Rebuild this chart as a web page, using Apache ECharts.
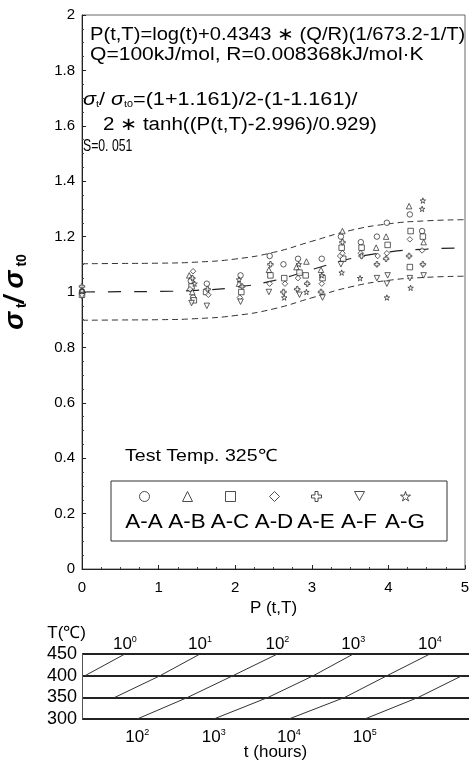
<!DOCTYPE html>
<html><head><meta charset="utf-8">
<script src="https://cdn.jsdelivr.net/npm/echarts@6/dist/echarts.min.js"></script>
<style>html,body{margin:0;padding:0;background:#fff}#c{width:469px;height:769px}</style>
</head><body><div id="c"></div>
<script>
// ---------- data ----------
const seriesNames = ['A-A','A-B','A-C','A-D','A-E','A-F','A-G'];
const dataAA = [[0,1.0],[1.42,1.04],[1.45,0.98],[1.63,1.03],[2.07,1.06],[2.45,1.13],[2.63,1.10],[2.82,1.12],[3.13,1.12],[3.38,1.20],[3.64,1.18],[3.85,1.20],[3.98,1.25],[4.28,1.28],[4.44,1.22]];
const dataAB = [[0,1.01],[1.40,1.06],[1.44,1.00],[2.05,1.03],[2.44,1.08],[2.80,1.09],[2.93,1.11],[3.12,1.08],[3.40,1.22],[3.84,1.16],[3.97,1.20],[4.27,1.31],[4.46,1.18]];
const dataAC = [[0,0.99],[1.43,1.02],[1.46,0.97],[1.62,1.00],[2.08,1.00],[2.46,1.06],[2.64,1.05],[2.84,1.07],[2.92,1.06],[3.14,1.05],[3.39,1.16],[3.41,1.12],[3.65,1.16],[3.99,1.17],[4.29,1.22],[4.28,1.09],[4.45,1.20]];
const dataAD = [[0,1.0],[1.45,1.075],[1.41,1.01],[1.65,0.99],[2.06,0.98],[2.45,1.03],[2.65,1.03],[2.82,1.05],[3.13,1.03],[3.37,1.13],[3.40,1.14],[3.64,1.14],[3.86,1.13],[3.98,1.14],[4.28,1.19],[4.44,1.15]];
const dataAE = [[0,1.02],[1.44,1.05],[1.64,1.01],[2.09,1.02],[2.46,1.10],[2.63,1.00],[2.81,1.01],[2.94,1.03],[3.12,1.00],[3.40,1.18],[3.65,1.13],[3.85,1.10],[3.97,1.12],[4.27,1.13],[4.45,1.10]];
const dataAF = [[0,0.985],[1.43,0.96],[1.63,0.95],[2.07,0.965],[2.44,1.00],[2.84,0.99],[3.14,0.98],[3.38,1.10],[3.85,1.05],[3.99,1.06],[3.98,1.03],[4.28,1.05],[4.46,1.06]];
const dataAG = [[0,1.005],[1.47,1.03],[2.05,1.045],[2.64,0.98],[2.83,1.10],[2.93,1.00],[3.13,1.06],[3.39,1.07],[3.63,1.05],[3.98,0.98],[4.29,1.015],[4.45,1.33],[4.44,1.30]];

// fitted curve and ±2S band
const curveP     = [0, 0.5, 1, 1.5, 2, 2.5, 3, 3.5, 4, 4.5, 5];
const meanCurve  = [1.000,1.001,1.002,1.006,1.017,1.041,1.081,1.120,1.144,1.155,1.159];
const upperCurve = [1.102,1.103,1.104,1.108,1.119,1.143,1.183,1.222,1.246,1.257,1.261];
const lowerCurve = [0.898,0.899,0.900,0.904,0.915,0.939,0.979,1.018,1.042,1.053,1.057];

// nomograph: iso-time lines (t = 10^exp hours), P at each temperature
const isoExp = [0,1,2,3,4,5];
const isoP = [[0.04,0.56],[0.43,1.02,1.54],[0.72,1.38,1.97,2.55],[1.72,2.43,3.02,3.54],[2.70,3.43,3.98,4.54],[3.69,4.39,4.96]];
const isoT = [[400,450],[350,400,450],[300,350,400,450],[300,350,400,450],[300,350,400,450],[300,350,400]];

// ---------- build ----------
const FONT = 'Liberation Sans, Arial, sans-serif';
const symbols = {
  'A-A':'circle','A-B':'triangle','A-C':'rect','A-D':'diamond',
  'A-E':'path://M35,0 H65 V35 H100 V65 H65 V100 H35 V65 H0 V35 H35 Z',
  'A-F':'path://M0,0 L100,0 L50,90 Z',
  'A-G':'path://M50,0 L61,35 L98,35 L68,57 L79,91 L50,70 L21,91 L32,57 L2,35 L39,35 Z'
};
const allData = [dataAA,dataAB,dataAC,dataAD,dataAE,dataAF,dataAG];
const markStyle = {color:'#fff', borderColor:'#222', borderWidth:0.9};

const series = [];
seriesNames.forEach((n,i)=>{
  series.push({name:n,type:'scatter',xAxisIndex:0,yAxisIndex:0,symbol:symbols[n],symbolSize:5.5,
    itemStyle:markStyle,data:allData[i],z:4});
});
const zip = (xs,ys)=>xs.map((x,i)=>[x,ys[i]]);
series.push({type:'line',xAxisIndex:0,yAxisIndex:0,data:zip(curveP,meanCurve),smooth:true,symbol:'none',
  lineStyle:{color:'#222',width:1.2,type:[13,13]},z:3});
series.push({type:'line',xAxisIndex:0,yAxisIndex:0,data:zip(curveP,upperCurve),smooth:true,symbol:'none',
  lineStyle:{color:'#333',width:1,type:[6,4]},z:3});
series.push({type:'line',xAxisIndex:0,yAxisIndex:0,data:zip(curveP,lowerCurve),smooth:true,symbol:'none',
  lineStyle:{color:'#333',width:1,type:[6,4]},z:3});

const supRich = {b:{fontSize:17,fontFamily:FONT,color:'#000'},s:{fontSize:9,fontFamily:FONT,color:'#000',verticalAlign:'top',padding:[0,0,8,0]}};
isoExp.forEach((e,k)=>{
  const pts = isoP[k].map((p,j)=>{
    const item = {value:[p,isoT[k][j]]};
    const last = j===isoP[k].length-1, first = j===0;
    if (last && isoT[k][j]===450) item.label={show:true,position:'top',distance:1,offset:[8,0],formatter:`{b|10}{s|${e}}`,rich:supRich};
    if (first && isoT[k][j]===300) item.label={show:true,position:'bottom',distance:9,offset:[-2,0],formatter:`{b|10}{s|${e}}`,rich:supRich};
    return item;
  });
  series.push({type:'line',xAxisIndex:1,yAxisIndex:1,data:pts,symbol:'circle',symbolSize:1,showSymbol:true,
    itemStyle:{color:'rgba(0,0,0,0)'},
    lineStyle:{color:'#333',width:1},label:{show:false},labelLayout:{hideOverlap:false},z:3});
});

const legends = [];
const legendX = [144,187,230,274,316,359,405];
seriesNames.forEach((n,i)=>{
  legends.push({data:[n],left:legendX[i]-5,top:491,padding:0,itemWidth:10,itemHeight:10,
    formatter:()=> '',selectedMode:false,itemStyle:{color:'#fff',borderColor:'#222',borderWidth:1},textStyle:{fontSize:1}});
});

const txt = (text,x,y,size,sx,extra)=>({type:'text',x:x,y:y,scaleX:sx,
  style:Object.assign({text:text,x:0,y:0,font:size+'px '+FONT,fill:'#000',textVerticalAlign:'middle'},extra||{})});
const graphics = [
  txt('P(t,T)=log(t)+0.4343 ∗ (Q/R)(1/673.2-1/T)',90,35,18,1.12),
  txt('Q=100kJ/mol, R=0.008368kJ/mol·K',90,55,18,1.17),
  txt('{g|σ}{u|t}/ {g|σ}{u|t0}=(1+1.161)/2-(1-1.161)/',83,100,18,1.2,
     {rich:{g:{fontSize:18,fontStyle:'italic',fontFamily:FONT},u:{fontSize:9,fontFamily:FONT,verticalAlign:'bottom',padding:[6,0,0,0]}}}),
  txt('2 ∗ tanh((P(t,T)-2.996)/0.929)',103,125,18,1.14),
  txt('S=0. 051',83,146,17,0.72),
  txt('Test Temp. 325℃',125,456,17,1.15),
  {type:'rect',shape:{x:111,y:481,width:336,height:60},style:{fill:null,stroke:'#333',lineWidth:1}},
];
seriesNames.forEach((n,i)=>{
  graphics.push(txt(n,legendX[i],522,20,1.12,{textAlign:'center'}));
});

const option = {
  animation:false,
  backgroundColor:'#fff',
  grid:[
    {left:82,right:4,top:15,bottom:200,show:true,borderColor:'#666',borderWidth:1,backgroundColor:'transparent',outerBoundsMode:'none',containLabel:false},
    {left:82,right:0,top:654,bottom:50,outerBoundsMode:'none',containLabel:false}
  ],
  xAxis:[
    {gridIndex:0,type:'value',min:0,max:5,interval:1,name:'P (t,T)',nameLocation:'middle',nameGap:30,
     nameTextStyle:{fontSize:17,fontFamily:FONT,color:'#000'},
     axisLine:{lineStyle:{color:'#222'}},axisTick:{inside:true,length:4,lineStyle:{color:'#222'}},
     minorTick:{show:true,splitNumber:4,length:2,lineStyle:{color:'#444'}},
     axisLabel:{fontSize:15,fontFamily:FONT,color:'#000',margin:11},splitLine:{show:false}},
    {gridIndex:1,type:'value',min:0,max:5.05,name:'t (hours)',nameLocation:'middle',nameGap:25,
     nameTextStyle:{fontSize:17,fontFamily:FONT,color:'#000'},
     axisLine:{show:false},axisTick:{show:false},axisLabel:{show:false},splitLine:{show:false}}
  ],
  yAxis:[
    {gridIndex:0,type:'value',min:0,max:2,interval:0.2,
     name:'{g|σ}{u| t}{g|/ σ}{u| t0}',nameLocation:'middle',nameGap:53,nameRotate:90,
     nameTextStyle:{rich:{g:{fontSize:27,fontWeight:'bold',fontStyle:'italic',fontFamily:FONT,color:'#000'},
                         u:{fontSize:14,fontWeight:'bold',fontFamily:FONT,color:'#000',verticalAlign:'bottom',padding:[9,0,0,0]}}},
     axisLine:{show:true,lineStyle:{color:'#222'}},axisTick:{inside:true,length:4,lineStyle:{color:'#222'}},
     minorTick:{show:true,splitNumber:4,length:2,lineStyle:{color:'#444'}},
     axisLabel:{fontSize:15,fontFamily:FONT,color:'#000',margin:7,formatter:v=>String(+v.toFixed(1))},splitLine:{show:false}},
    {gridIndex:1,type:'value',min:300,max:450,interval:50,name:'T(℃)',nameLocation:'end',nameGap:12,
     nameTextStyle:{fontSize:17,fontFamily:FONT,color:'#000',align:'right',padding:[0,-4,0,0]},
     axisLine:{show:true,lineStyle:{color:'#555'}},axisTick:{show:false},
     axisLabel:{fontSize:18,fontFamily:FONT,color:'#000',margin:5},
     splitLine:{show:true,lineStyle:{color:'#222',width:2}}}
  ],
  legend:legends,
  graphic:graphics,
  series:series
};
const chart = echarts.init(document.getElementById('c'),null,{renderer:'canvas'});
chart.setOption(option);
</script></body></html>
